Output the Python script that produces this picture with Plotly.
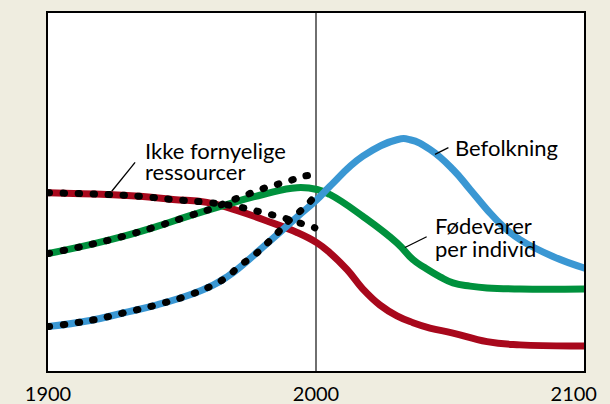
import plotly.graph_objects as go

# Population (Befolkning)
pop_years = [1900, 1915.7, 1928, 1940.7, 1953, 1961.6, 1966.8, 1971.6, 1980.2, 1992.9, 2000.4, 2005.2, 2017.5,
             2030.2, 2035.1, 2042.5, 2051.1, 2057.5, 2063.8, 2069.8, 2076.1, 2088.4, 2100]
pop_vals = [12.4, 14.1, 16.2, 18.5, 21.3, 24.0, 26.3, 29.0, 34.6, 43.0, 47.9, 51.6, 60.0,
            64.6, 64.6, 61.9, 56.3, 50.7, 45.1, 40.4, 36.7, 32.0, 28.8]

# Food per capita (Fødevarer per individ)
food_years = [1900, 1915.7, 1928, 1940.7, 1953, 1965.3, 1980.2, 1992.9, 2000.4, 2005.2, 2017.5, 2030.2,
              2036.2, 2040.5, 2046.3, 2051.1, 2057.5, 2063.8, 2076.1, 2100]
food_vals = [32.8, 35.3, 37.6, 40.4, 43.4, 46.2, 49.3, 51.2, 50.7, 49.3, 43.2, 35.8,
             31.1, 28.9, 26.3, 24.6, 23.7, 23.2, 22.9, 22.9]

# Non-renewable resources (Ikke fornyelige ressourcer)
res_years = [1900, 1922, 1934.3, 1946.6, 1959.3, 1971.6, 1980.2, 1992.9, 2000.4, 2005.2, 2011.6, 2017.5,
             2023.9, 2030.2, 2036.2, 2042.5, 2051.1, 2063.8, 2076.1, 2100]
res_vals = [49.8, 49.3, 48.8, 47.9, 47.1, 44.6, 42.3, 38.7, 35.8, 33.0, 28.3, 22.9,
            18.4, 15.4, 13.5, 12.0, 10.6, 8.2, 7.3, 7.0]

# Historical data (dotted)
pop_hist_years = [1900, 1915.7, 1928, 1940.7, 1953, 1961.6, 1966.8, 1971.6, 1977.2, 1981.7, 1985.8, 1990.3, 1994.8, 1998.5]
pop_hist_vals = [12.4, 14.1, 16.2, 18.5, 21.3, 24.0, 26.3, 29.4, 32.5, 35.6, 38.7, 42.3, 45.1, 47.9]
food_hist_years = [1900, 1915.7, 1928, 1940.7, 1953, 1962, 1967.9, 1972.8, 1978.4, 1984.0, 1989.6, 1994.8, 2000.4]
food_hist_vals = [32.8, 35.3, 37.6, 40.4, 43.4, 45.6, 47.5, 48.8, 50.5, 51.8, 53.0, 54.3, 54.9]
res_hist_years = [1900, 1922, 1934.3, 1946.6, 1959.3, 1970.9, 1976.5, 1982.1, 1987.7, 1993.3, 1999.6]
res_hist_vals = [49.8, 49.3, 48.8, 47.9, 47.1, 45.9, 44.9, 43.9, 42.8, 41.5, 40.0]

tick_years = [1900, 2000, 2100]
tick_labels = ["1900", "2000", "2100\u00a0\u00a0\u00a0\u00a0"]

BLUE = "#3a97d3"
GREEN = "#00913d"
RED = "#a8081c"
BG = "#efede0"
FONT = "Lato"

fig = go.Figure()
for xs, ys, c in [(res_years, res_vals, RED), (food_years, food_vals, GREEN), (pop_years, pop_vals, BLUE)]:
    fig.add_trace(go.Scatter(x=xs, y=ys, mode="lines", line=dict(color=c, width=7, shape="spline", smoothing=1.3),
                             hoverinfo="skip", showlegend=False))
for xs, ys in [(res_hist_years, res_hist_vals), (food_hist_years, food_hist_vals), (pop_hist_years, pop_hist_vals)]:
    fig.add_trace(go.Scatter(x=xs, y=ys, mode="lines",
                             line=dict(color="black", width=7, shape="spline", smoothing=1.3, dash="1.5px,13.5px"),
                             hoverinfo="skip", showlegend=False))

# vertical line at 2000
fig.add_shape(type="line", x0=2000, x1=2000, y0=0, y1=1, xref="x", yref="paper",
              line=dict(color="#222222", width=1.3), layer="below")

# leader lines
for x0, y0, x1, y1 in [(2044.4, 60.5, 2049.4, 62.4), (2033.2, 34.5, 2041.3, 37.5), (1923.8, 50.2, 1932.5, 58.3)]:
    fig.add_shape(type="line", x0=x0, y0=y0, x1=x1, y1=y1, xref="x", yref="y",
                  line=dict(color="black", width=1.3))

labels = [
    ("Befolkning", 2051.2, 62.4),
    ("Ikke fornyelige", 1935.5, 61.7),
    ("ressourcer", 1935.5, 55.7),
    ("Fødevarer", 2043.7, 40.6),
    ("per individ", 2043.7, 34.2),
]
for t, x, y in labels:
    fig.add_annotation(text=t, x=x, y=y, xref="x", yref="y", xanchor="left", yanchor="middle",
                       showarrow=False, font=dict(family=FONT, size=22, color="black"))

fig.update_layout(
    width=610, height=404,
    margin=dict(l=48, r=26, t=13, b=33),
    paper_bgcolor=BG, plot_bgcolor="white",
    font=dict(family=FONT, color="black"),
    xaxis=dict(range=[1900, 2100], tickvals=tick_years, ticktext=tick_labels, showgrid=False, zeroline=False,
               showline=True, mirror=True, linecolor="black", linewidth=2, ticks="", automargin=False,
               ticklabeloverflow="allow", ticklabelstandoff=4,
               tickfont=dict(family=FONT, size=20, color="black")),
    yaxis=dict(range=[0, 100], showticklabels=False, showgrid=False, zeroline=False, automargin=False,
               showline=True, mirror=True, linecolor="black", linewidth=2, ticks=""),
)

post = """
document.body.style.margin='0';
document.body.style.overflow='hidden';
var s=document.createElement('style');
s.innerHTML='.scatterlayer path.js-line{stroke-linecap:round;stroke-linejoin:round}';
document.head.appendChild(s);
"""
fig.write_html("out.html", post_script=post, config={"displayModeBar": False})
